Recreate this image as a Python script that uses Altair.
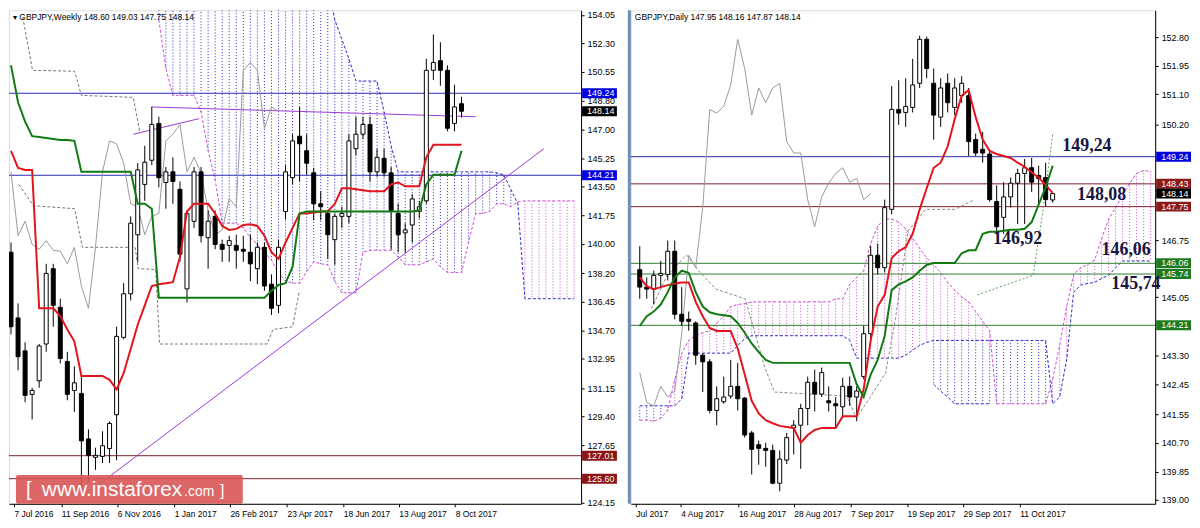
import altair as alt
import pandas as pd

FONT = "Liberation Sans"
W_L, W_R, H = 575, 527, 496

# ---------------- Weekly panel data ----------------
w_open = [139.49, 135.46, 133.44, 130.77, 131.60, 133.86, 138.48, 136.11, 132.79, 131.01,
          130.83, 128.04, 126.91, 126.97, 127.45, 129.52, 134.27, 136.94, 140.56, 143.65,
          145.13, 147.39, 143.77, 144.42, 143.35, 137.24, 141.39, 144.42, 140.38, 141.69,
          139.97, 139.91, 139.91, 139.67, 139.49, 138.48, 139.79, 137.53, 136.23, 141.99,
          144.06, 146.61, 145.72, 144.36, 142.46, 141.87, 140.26, 141.69, 141.69, 145.84,
          146.73, 147.33, 144.42, 145.25, 144.36, 141.87, 140.68, 141.16, 141.99, 142.64,
          150.65, 151.24, 150.65, 147.39, 148.60]
w_high = [140.09, 136.35, 133.97, 131.18, 133.86, 138.78, 138.78, 136.64, 133.38, 132.49,
          131.96, 128.63, 127.50, 128.51, 129.11, 134.92, 137.59, 141.69, 144.95, 146.02,
          148.40, 147.80, 144.72, 145.31, 143.83, 142.05, 144.72, 144.72, 142.05, 142.05,
          140.26, 140.50, 140.56, 140.50, 140.56, 140.09, 140.09, 138.13, 140.26, 144.83,
          146.73, 148.40, 146.73, 144.66, 143.23, 142.05, 141.87, 142.28, 146.73, 147.80,
          147.80, 147.80, 145.84, 145.84, 144.72, 142.46, 141.27, 143.05, 142.64, 151.36,
          152.85, 152.37, 150.95, 149.76, 149.03]
w_low = [134.45, 132.25, 130.29, 129.23, 131.18, 133.38, 134.92, 132.67, 130.41, 129.70,
         124.60, 125.43, 126.14, 126.56, 126.56, 126.73, 134.15, 136.53, 138.90, 142.64,
         144.83, 143.47, 142.16, 142.46, 138.90, 136.41, 140.98, 140.09, 138.48, 139.67,
         138.90, 138.90, 138.48, 138.90, 137.71, 137.53, 137.12, 135.64, 135.75, 141.50,
         143.65, 143.83, 144.24, 141.45, 141.45, 139.08, 138.72, 140.98, 141.27, 145.43,
         146.44, 143.83, 144.12, 144.12, 139.67, 139.49, 139.49, 140.09, 141.57, 142.46,
         150.06, 149.70, 146.91, 146.91, 147.75]
w_close = [134.92, 133.08, 130.71, 131.01, 133.74, 138.19, 136.23, 132.97, 130.77, 131.48,
           127.92, 127.03, 127.03, 127.62, 128.99, 134.33, 136.94, 141.27, 144.54, 145.01,
           147.33, 144.06, 144.42, 143.83, 139.37, 141.87, 144.42, 140.50, 141.39, 139.97,
           139.67, 140.20, 139.61, 139.55, 138.78, 139.79, 137.42, 136.05, 139.79, 144.42,
           146.32, 146.14, 144.95, 142.46, 142.28, 140.56, 141.69, 141.87, 146.32, 146.73,
           147.33, 144.42, 145.31, 144.36, 142.05, 140.56, 140.86, 142.76, 142.28, 150.65,
           151.13, 150.65, 147.09, 148.40, 148.14]
w_tenkan = [145.70, 144.66, 144.54, 144.54, 136.05, 136.05, 136.05, 135.58, 134.75, 134.03,
            131.90, 131.90, 131.90, 131.90, 131.66, 131.07, 132.07, 133.56, 135.04, 136.23,
            137.42, 137.53, 137.59, 137.65, 139.20, 141.99, 142.46, 142.46, 142.46, 141.87,
            141.10, 140.86, 140.92, 141.16, 141.21, 141.10, 140.50, 139.49, 139.08, 140.09,
            140.98, 141.87, 141.87, 141.93, 141.99, 141.99, 142.46, 143.41, 143.41, 143.35,
            143.29, 143.23, 143.23, 143.23, 143.65, 143.77, 143.53, 143.53, 143.53, 145.31,
            146.08, 146.08, 146.08, 146.08, 146.08]
w_kijun = [150.95, 148.69, 147.50, 146.61, 146.56, 146.50, 146.44, 146.38, 146.38, 146.32,
           144.42, 144.42, 144.42, 144.42, 144.42, 144.42, 144.42, 144.42, 142.46, 142.46,
           142.16, 136.70, 136.70, 136.70, 136.70, 136.70, 136.70, 136.70, 136.70, 136.70,
           136.70, 136.70, 136.70, 136.70, 136.70, 136.70, 136.70, 137.12, 137.48, 137.59,
           138.60, 141.87, 141.99, 141.99, 141.99, 141.99, 141.99, 141.99, 141.99, 141.99,
           141.99, 141.99, 141.99, 141.99, 141.99, 141.99, 141.99, 141.99, 142.05, 143.65,
           144.24, 144.24, 144.24, 144.24, 145.72]
w_cloud_start = 21
w_span_a = [153.74, 150.77, 149.11, 149.11, 149.11, 149.11, 148.10, 145.72, 143.94, 141.27,
            141.27, 141.27, 140.98, 140.38, 139.97, 139.49, 139.02, 138.19, 137.71, 137.59,
            137.59, 138.31, 138.90, 138.78, 138.72, 137.71, 137.00, 137.00, 137.00, 139.49,
            139.61, 139.61, 139.61, 139.61, 139.20, 138.72, 138.72, 138.72, 138.90, 139.08,
            138.60, 138.25, 138.25, 138.25, 140.09, 141.87, 141.87, 141.99, 142.46, 142.46,
            142.28, 142.58, 142.64, 142.64, 142.64, 142.64, 142.64, 142.64, 142.64, 142.64]
w_span_b = [156.0] * 25 + [153.74, 152.55, 151.36, 149.99, 149.99, 149.99, 149.99, 148.10, 146.02] \
    + [144.42] * 14 + [144.36, 144.24, 143.35, 142.46] + [136.64] * 8
w_levels = [149.24, 144.21, 127.01, 125.60]
w_level_cols = ["#2a2ab0", "#2a2ab0", "#7a1f2b", "#7a1f2b"]
w_seg_x = [12.5, 75.7, 19.9, 66.0, 17.4, 26.7]
w_seg_y = [125.25, 145.84, 148.40, 147.80, 146.73, 147.68]
w_g1_x = [1.67, 3.06, 9.03, 10.0, 17.36, 18.33]
w_g1_y = [153.91, 150.65, 150.59, 149.11, 148.99, 146.79]
w_g2_x = [1.11, 3.19, 9.03, 10.14, 17.64, 18.06, 20.56, 21.11, 36.39, 37.22, 40.0, 40.97]
w_g2_y = [143.65, 142.34, 142.16, 139.79, 139.79, 138.48, 138.43, 133.86, 133.86, 134.75, 134.92, 137.12]
w_xticks = [0.42, 7.15, 15.1, 23.2, 31.1, 39.2, 47.2, 55.1, 63.1]
w_xlabels = ["7 Jul 2016", "11 Sep 2016", "6 Nov 2016", "1 Jan 2017", "26 Feb 2017",
             "23 Apr 2017", "18 Jun 2017", "13 Aug 2017", "8 Oct 2017"]
w_yticks = [154.05, 152.30, 150.55, 148.80, 147.00, 145.25, 143.50, 141.75, 140.00, 138.20,
            136.45, 134.70, 132.95, 131.15, 129.40, 127.65, 124.15]
w_box_vals = [149.24, 148.14, 144.21, 127.01, 125.60]
w_box_cols = ["#0000dd", "#000000", "#0000dd", "#8b1414", "#8b1414"]

# ---------------- Daily panel data ----------------
d_open = [145.87, 145.35, 145.29, 145.70, 145.73, 146.42, 144.54, 144.39, 144.28, 143.32,
          143.12, 141.67, 141.93, 142.10, 142.39, 142.04, 141.00, 140.65, 140.54, 140.48,
          139.50, 140.19, 141.15, 141.23, 141.73, 142.51, 142.16, 141.96, 141.87, 141.78,
          142.39, 142.07, 142.68, 143.96, 146.30, 145.93, 147.67, 150.65, 150.56, 150.71,
          151.43, 152.74, 151.43, 150.42, 151.43, 150.71, 151.06, 151.06, 149.75, 149.46,
          149.32, 147.90, 147.43, 148.04, 148.45, 148.74, 148.91, 148.68, 148.62, 147.95]
d_high = [146.57, 145.64, 145.84, 146.13, 146.74, 146.74, 145.35, 144.62, 144.33, 143.38,
          143.20, 142.39, 142.68, 143.18, 143.09, 142.07, 141.06, 140.77, 140.71, 140.65,
          140.48, 141.00, 141.38, 141.87, 142.68, 142.89, 142.95, 142.39, 142.07, 142.65,
          142.68, 142.39, 144.19, 146.57, 146.65, 147.96, 151.35, 151.52, 151.58, 152.16,
          152.85, 152.82, 151.87, 151.58, 151.72, 151.58, 151.64, 151.29, 149.93, 149.98,
          149.46, 148.39, 148.48, 148.62, 148.88, 149.17, 149.20, 148.97, 149.06, 148.16]
d_low = [145.00, 145.00, 144.83, 145.35, 145.55, 144.39, 144.19, 144.05, 143.03, 142.22,
         141.58, 141.23, 141.87, 142.02, 141.67, 140.86, 139.76, 140.05, 139.99, 139.47,
         139.26, 140.07, 140.36, 139.93, 141.23, 141.64, 142.07, 141.64, 141.15, 141.44,
         141.81, 141.35, 142.60, 143.76, 145.73, 145.79, 147.52, 150.19, 150.13, 150.56,
         151.29, 151.58, 149.75, 150.13, 150.56, 150.48, 150.85, 149.26, 149.26, 149.06,
         147.90, 146.92, 146.94, 147.72, 147.23, 147.23, 148.19, 147.81, 147.75, 147.87]
d_close = [145.35, 145.29, 145.70, 145.76, 146.42, 144.54, 144.33, 144.33, 143.32, 143.12,
           141.67, 142.02, 142.07, 142.39, 142.02, 140.94, 140.51, 140.54, 140.48, 139.50,
           140.22, 140.86, 141.23, 141.73, 142.51, 142.16, 142.80, 141.90, 141.81, 142.39,
           142.07, 142.25, 143.96, 146.30, 145.93, 147.72, 150.65, 150.54, 150.74, 151.38,
           152.74, 151.87, 150.48, 151.29, 150.85, 151.29, 151.43, 149.69, 149.35, 149.35,
           147.96, 147.15, 148.04, 148.45, 148.74, 148.91, 148.48, 148.59, 147.96, 148.14]
d_tenkan = [145.64, 145.38, 145.29, 145.35, 145.41, 145.46, 145.49, 145.49, 144.91, 144.48,
            144.13, 144.04, 144.04, 144.04, 143.52, 142.74, 141.96, 141.58, 141.38, 141.29,
            141.21, 141.18, 141.15, 140.71, 140.94, 141.09, 141.15, 141.15, 141.15, 141.50,
            141.50, 141.50, 142.31, 143.76, 144.77, 145.12, 146.22, 146.42, 146.54, 146.94,
            147.67, 148.30, 148.91, 149.06, 149.55, 150.36, 151.06, 151.23, 150.42, 149.75,
            149.41, 149.32, 149.26, 149.20, 149.06, 148.94, 148.77, 148.62, 148.39, 148.16]
d_kijun = [144.19, 144.48, 144.62, 144.83, 145.20, 145.64, 145.84, 145.78, 145.20, 144.77,
           144.60, 144.54, 144.51, 144.48, 144.28, 143.99, 143.67, 143.41, 143.18, 143.09,
           143.09, 143.09, 143.09, 143.09, 143.09, 143.09, 143.09, 143.09, 143.09, 143.09,
           143.09, 142.45, 142.07, 142.74, 143.18, 143.90, 145.26, 145.43, 145.52, 145.64,
           145.84, 146.01, 146.07, 146.07, 146.07, 146.07, 146.36, 146.45, 146.45, 146.94,
           147.00, 147.00, 147.03, 147.06, 147.06, 147.09, 147.29, 147.81, 148.33, 148.97]
d_span_a = [141.38, 141.38, 141.35, 141.44, 141.67,
            142.60, 143.38, 143.76, 143.90, 143.99, 144.05, 144.28, 144.48, 144.77, 144.83, 144.86] \
    + [144.91] * 12 \
    + [145.00, 145.00, 145.43, 145.64, 145.84, 146.65, 147.17, 147.38, 147.38, 147.29, 147.09,
       146.80, 146.51, 146.22, 146.02, 145.78, 145.49, 145.26, 145.06, 144.91, 144.62, 144.33, 144.05] \
    + [141.87] * 8 \
    + [142.60, 143.61, 144.77, 145.73, 145.93, 146.02, 146.16, 146.80, 147.38, 147.72, 148.10,
       148.45, 148.74, 148.83, 148.80]
d_span_b = [141.81] * 6 + [142.02] + [143.38] * 7 + [143.61, 143.81] + [143.90] * 14 \
    + [143.76] + [143.23] * 7 + [143.32, 143.47, 143.61, 143.70] + [143.76] * 17 \
    + [141.87, 142.07, 143.18, 145.20, 145.41, 145.46, 145.49, 145.61, 145.70, 145.93] + [146.13] * 5
d_band_start = 42
d_band_hi = [143.76] * 9
d_band_lo = [142.45, 142.25, 142.07, 141.87, 141.87, 141.87, 141.87, 141.87, 141.87]
d_levels = [149.24, 148.43, 147.75, 146.06, 145.74, 144.21]
d_level_cols = ["#2a2ab0", "#7a1f2b", "#7a1f2b", "#2d7d2d", "#2d7d2d", "#2d7d2d"]
d_g1_x = [1.67, 3.91, 6.69, 8.65, 10.88, 15.06, 17.85, 19.25, 29.57, 30.96, 32.78, 35.15,
          36.54, 38.35, 40.86, 45.05, 47.84]
d_g1_y = [144.71, 145.70, 146.31, 145.78, 145.29, 145.00, 142.97, 142.22, 142.10, 141.44, 142.02,
          142.80, 144.42, 147.03, 147.67, 147.67, 147.96]
d_g2_x = [48.26, 56.21, 57.6, 59.0]
d_g2_y = [145.12, 145.70, 147.61, 149.90]
d_note_text = ["149,24", "148,08", "146,92", "146,06", "145,74"]
d_note_x = [63.9, 66.0, 54.0, 69.5, 70.9]
d_note_y = [149.55, 148.10, 146.77, 146.45, 145.44]
d_xticks = [-0.56, 5.86, 14.1, 22.0, 30.1, 38.2, 46.2, 54.3]
d_xlabels = ["Jul 2017", "4 Aug 2017", "16 Aug 2017", "28 Aug 2017", "7 Sep 2017",
             "19 Sep 2017", "29 Sep 2017", "11 Oct 2017"]
d_yticks = [152.80, 151.95, 151.10, 150.20, 146.75, 145.05, 143.30, 142.45, 141.55, 140.70,
            139.85, 139.00]
d_box_vals = [149.24, 148.43, 148.14, 147.75, 146.06, 145.74, 144.21]
d_box_cols = ["#0000dd", "#8b1a1a", "#000000", "#8b1a1a", "#1e7a1e", "#1e7a1e", "#1e7a1e"]

BLUE_H = "#2a2ac8"
MAG_H = "#d24cd2"


def xenc(field, dom, ticks, labels):
    expr = " : ".join(f"abs(datum.value - ({t})) < 0.01 ? '{l}'" for t, l in zip(ticks, labels)) + " : ''"
    return alt.X(f"{field}:Q", scale=alt.Scale(domain=dom, nice=False, zero=False),
                 axis=alt.Axis(values=ticks, labelExpr=expr, title=None, grid=False, tickSize=3,
                               labelAlign="left", labelFontSize=8.5, labelFont=FONT, labelColor="black",
                               domainColor="black", tickColor="black", labelPadding=3,
                               labelOverlap=False, labelFlush=False))


def yenc(field, dom, ticks):
    return alt.Y(f"{field}:Q", scale=alt.Scale(domain=dom, nice=False, zero=False),
                 axis=alt.Axis(orient="right", values=ticks, format=".2f", title=None, grid=False,
                               tickSize=3, labelFontSize=9, labelFont=FONT, labelColor="black",
                               domainColor="black", tickColor="black", labelPadding=3,
                               labelOverlap=False, labelFlush=False))


def panel(o, h, l, c, tenkan, kijun, cloud_start, span_a, span_b, bands, levels, level_cols,
          dashed, xdom, ydom, xt, xl, yt, W, box_vals, box_cols, title):
    X = lambda f: xenc(f, xdom, xt, xl)
    Y = lambda f: yenc(f, ydom, yt)
    n = len(o)
    cdf = pd.DataFrame({"i": range(n), "o": o, "h": h, "l": l, "c": c,
                        "tenkan": tenkan, "kijun": kijun})
    cdf["fill"] = ["white" if cc >= oo else "black" for oo, cc in zip(o, c)]
    chik = pd.DataFrame({"i": range(n - 26), "v": c[26:]})
    cl = pd.DataFrame({"i": [cloud_start + k for k in range(len(span_a))], "a": span_a, "b": span_b})
    cl["col"] = [MAG_H if a >= b else BLUE_H for a, b in zip(span_a, span_b)]
    layers = []
    layers.append(alt.Chart(cl).mark_rule(strokeDash=[1, 2], strokeWidth=1, clip=True).encode(
        x=X("i"), y=Y("a"), y2="b", color=alt.Color("col:N", scale=None)))
    for (bs, bhi, blo, bcol) in bands:
        bdf = pd.DataFrame({"i": [bs + k for k in range(len(bhi))], "hi": bhi, "lo": blo})
        layers.append(alt.Chart(bdf).mark_rule(strokeDash=[1, 2], strokeWidth=1, clip=True, color=bcol)
                      .encode(x=X("i"), y=Y("hi"), y2="lo"))
        layers.append(alt.Chart(bdf).mark_line(strokeDash=[3, 2], strokeWidth=1, clip=True, color=bcol)
                      .encode(x=X("i"), y=Y("lo")))
    layers.append(alt.Chart(cl).mark_line(strokeDash=[3, 2], strokeWidth=1, clip=True, color=MAG_H)
                  .encode(x=X("i"), y=Y("a")))
    layers.append(alt.Chart(cl).mark_line(strokeDash=[3, 2], strokeWidth=1, clip=True, color=BLUE_H)
                  .encode(x=X("i"), y=Y("b")))
    lv = pd.DataFrame({"v": levels, "col": level_cols})
    layers.append(alt.Chart(lv).mark_rule(strokeWidth=1, clip=True).encode(
        y=Y("v"), color=alt.Color("col:N", scale=None)))
    for (xs, ys, col, dash, sw) in dashed:
        ddf = pd.DataFrame({"i": xs, "v": ys})
        kw = dict(strokeWidth=sw, clip=True, color=col)
        if dash:
            kw["strokeDash"] = dash
        layers.append(alt.Chart(ddf).mark_line(**kw).encode(x=X("i"), y=Y("v")))
    layers.append(alt.Chart(chik).mark_line(color="#9a9a9a", strokeWidth=1, clip=True)
                  .encode(x=X("i"), y=Y("v")))
    layers.append(alt.Chart(cdf).mark_rule(color="black", strokeWidth=1, clip=True)
                  .encode(x=X("i"), y=Y("l"), y2="h"))
    layers.append(alt.Chart(cdf).mark_bar(size=4, stroke="black", strokeWidth=1, clip=True)
                  .encode(x=X("i"), y=Y("o"), y2="c", color=alt.Color("fill:N", scale=None)))
    layers.append(alt.Chart(cdf).mark_line(color="#e3141c", strokeWidth=2, clip=True)
                  .encode(x=X("i"), y=Y("tenkan")))
    layers.append(alt.Chart(cdf).mark_line(color="#127a12", strokeWidth=2, clip=True)
                  .encode(x=X("i"), y=Y("kijun")))
    bx = pd.DataFrame({"v": box_vals, "col": box_cols, "t": [f"{v:.2f}" for v in box_vals]})
    layers.append(alt.Chart(bx).mark_rect(yOffset=-5, y2Offset=5).encode(
        x=alt.value(W + 1), x2=alt.value(W + 36), y=Y("v"), y2="v",
        color=alt.Color("col:N", scale=None)))
    layers.append(alt.Chart(bx).mark_text(align="left", baseline="middle", font=FONT, fontSize=9,
                                          color="white").encode(
        x=alt.value(W + 6), y=Y("v"), text="t:N"))
    tdf = pd.DataFrame({"t": [title]})
    layers.append(alt.Chart(tdf).mark_text(align="left", baseline="middle", font=FONT, fontSize=8.5,
                                           color="black").encode(
        x=alt.value(4), y=alt.value(7), text="t:N"))
    return layers, X, Y


left_layers, XL, YL = panel(
    w_open, w_high, w_low, w_close, w_tenkan, w_kijun, w_cloud_start, w_span_a, w_span_b, [],
    w_levels, w_level_cols,
    [(w_seg_x[0:2], w_seg_y[0:2], "#9a3ad6", None, 1),
     (w_seg_x[2:4], w_seg_y[2:4], "#9a3ad6", None, 1),
     (w_seg_x[4:6], w_seg_y[4:6], "#9a3ad6", None, 1),
     (w_g1_x, w_g1_y, "#777777", [3, 2], 1),
     (w_g2_x, w_g2_y, "#777777", [3, 2], 1)],
    [0.42, 80.28], [124.06, 154.33], w_xticks, w_xlabels, w_yticks, W_L,
    w_box_vals, w_box_cols, "\u25be GBPJPY,Weekly  148.60 149.03 147.75 148.14")

left_layers.append(alt.Chart(pd.DataFrame({"a": [0]})).mark_rect(color="#d95757", opacity=0.9,
                                                                  cornerRadius=2).encode(
    x=alt.value(7), x2=alt.value(235), y=alt.value(467), y2=alt.value(496)))
left_layers.append(alt.Chart(pd.DataFrame({"t": ["["]})).mark_text(
    align="left", baseline="middle", font=FONT, fontSize=20, color="white").encode(
    x=alt.value(17), y=alt.value(482), text="t:N"))
left_layers.append(alt.Chart(pd.DataFrame({"t": ["www.instaforex"]})).mark_text(
    align="left", baseline="middle", font=FONT, fontSize=21, color="white").encode(
    x=alt.value(33), y=alt.value(482), text="t:N"))
left_layers.append(alt.Chart(pd.DataFrame({"t": [".com"]})).mark_text(
    align="left", baseline="middle", font=FONT, fontSize=14, color="white").encode(
    x=alt.value(176), y=alt.value(484), text="t:N"))
left_layers.append(alt.Chart(pd.DataFrame({"t": ["]"]})).mark_text(
    align="left", baseline="middle", font=FONT, fontSize=16, color="white").encode(
    x=alt.value(212), y=alt.value(483), text="t:N"))

right_layers, XR, YR = panel(
    d_open, d_high, d_low, d_close, d_tenkan, d_kijun, 0, d_span_a, d_span_b,
    [(d_band_start, d_band_hi, d_band_lo, BLUE_H)],
    d_levels, d_level_cols,
    [(d_g1_x, d_g1_y, "#8a8a8a", [3, 2], 1),
     (d_g2_x, d_g2_y, "#5aa55a", [2, 2], 1)],
    [-0.56, 72.94], [138.887, 153.607], d_xticks, d_xlabels, d_yticks, W_R,
    d_box_vals, d_box_cols, "GBPJPY,Daily  147.95 148.16 147.87 148.14")

notes = pd.DataFrame({"t": d_note_text, "k": d_note_x, "p": d_note_y})
right_layers.append(alt.Chart(notes).mark_text(font="Liberation Serif", fontWeight="bold", fontSize=18,
                                               color="#161642").encode(
    x=XR("k"), y=YR("p"), text="t:N"))
right_layers.append(alt.Chart(pd.DataFrame({"a": [0]})).mark_rect(color="#6d8fb3").encode(
    x=alt.value(-3), x2=alt.value(0), y=alt.value(0), y2=alt.value(H)))

left = alt.layer(*left_layers).properties(width=W_L, height=H)
right = alt.layer(*right_layers).properties(width=W_R, height=H)

chart = alt.hconcat(left, right, spacing=50, bounds="flush",
                    padding={"left": 0, "top": 0, "right": 0, "bottom": 0}).configure_view(
    stroke=None).configure(background="white")

chart.save("out.html", embed_options={"renderer": "svg", "actions": False})
